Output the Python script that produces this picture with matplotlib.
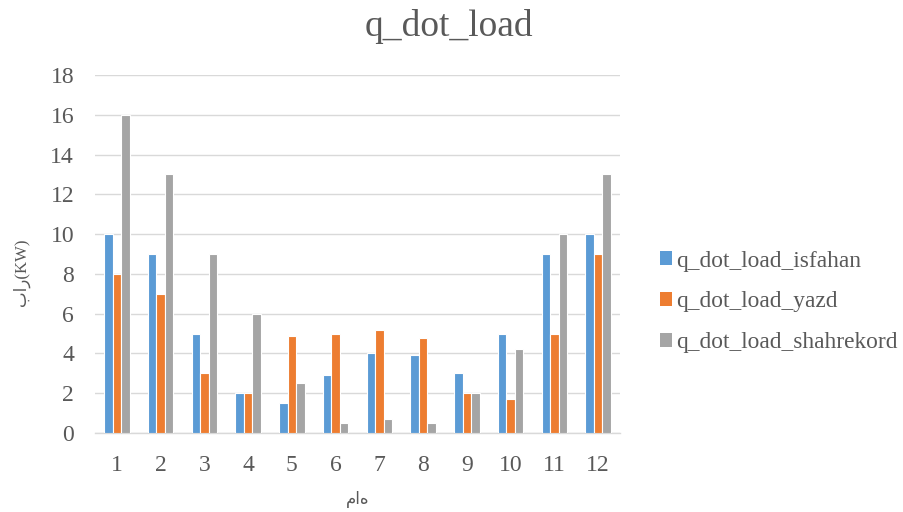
import matplotlib
matplotlib.use("Agg")
import matplotlib.pyplot as plt
import numpy as np
from matplotlib.patches import Patch

months = ["1", "2", "3", "4", "5", "6", "7", "8", "9", "10", "11", "12"]
isfahan = [10, 9, 5, 2, 1.5, 2.9, 4, 3.9, 3, 5, 9, 10]
yazd = [8, 7, 3, 2, 4.9, 5, 5.2, 4.8, 2, 1.7, 5, 9]
shahrekord = [16, 13, 9, 6, 2.5, 0.5, 0.7, 0.5, 2, 4.2, 10, 13]
series_names = ["q_dot_load_isfahan", "q_dot_load_yazd", "q_dot_load_shahrekord"]
colors = ["#5B9BD5", "#ED7D31", "#A5A5A5"]
title = "q_dot_load"
xlabel = "ماه"
ylabel = "بار(KW)"
yticks = [0, 2, 4, 6, 8, 10, 12, 14, 16, 18]

serif = ["Liberation Serif", "DejaVu Sans"]
plt.rcParams["font.family"] = serif
txt = "#595959"

fig = plt.figure(figsize=(9.04, 5.12), dpi=100)
ax = fig.add_axes([95 / 904, 1 - 433 / 512, (620 - 95) / 904, (433 - 75) / 512])

x = np.arange(len(months))
w = 1 / (3 + 2.19)
data = [isfahan, yazd, shahrekord]
for i, (vals, c, name) in enumerate(zip(data, colors, series_names)):
    ax.bar(x + (i - 1) * w, vals, width=w, color=c, edgecolor="white",
           linewidth=0.8, label=name, zorder=3)

ax.set_xlim(-0.5, len(months) - 0.5)
ax.set_ylim(0, 18)
ax.set_yticks(yticks)
ax.set_xticks(x)
ax.set_xticklabels(months)
ax.yaxis.grid(True, color="#D9D9D9", linewidth=1.0, zorder=0)
ax.set_axisbelow(True)
for s in ["top", "right", "left"]:
    ax.spines[s].set_visible(False)
ax.spines["bottom"].set_color("#D9D9D9")
ax.spines["bottom"].set_linewidth(1.0)
ax.tick_params(axis="both", length=0, labelsize=17, labelcolor=txt)
ax.tick_params(axis="x", pad=16)
ax.tick_params(axis="y", pad=15)

fig.text(449 / 904, 1 - 27 / 512, title, ha="center", va="center",
         fontsize=27, color=txt, family=serif)
fig.text(358 / 904, 1 - 500 / 512, xlabel, ha="center", va="center",
         fontsize=12, color=txt, family=serif)
fig.text(21 / 904, 1 - 272 / 512, ylabel, ha="center", va="center",
         rotation=90, fontsize=12, color=txt, family=serif)

handles = [Patch(facecolor=c, edgecolor="none") for c in colors]
leg = fig.legend(handles, series_names, loc="center left",
                 bbox_to_anchor=(648 / 904, 1 - 302 / 512), frameon=False,
                 fontsize=16.8, handlelength=0.55, handleheight=0.55,
                 handletextpad=0.15, labelspacing=0.85, borderpad=0)
for t in leg.get_texts():
    t.set_color(txt)

fig.savefig("out.png", dpi=100)
